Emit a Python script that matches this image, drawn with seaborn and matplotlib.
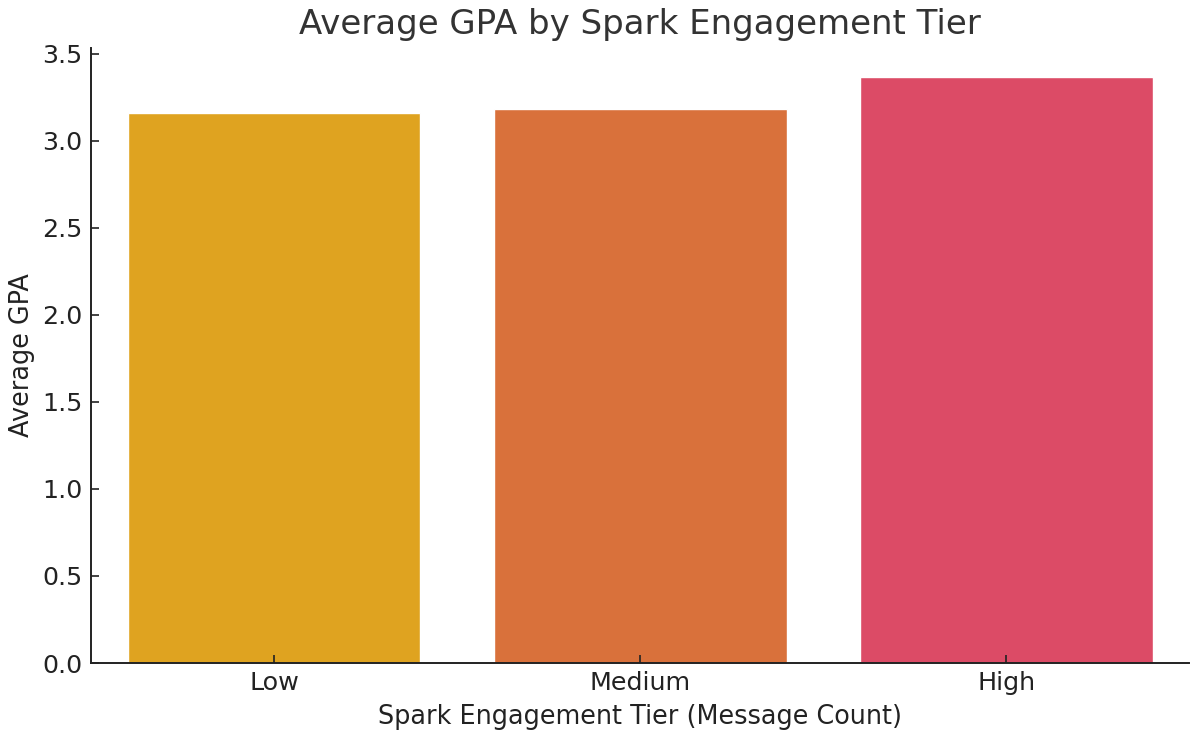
import pandas as pd
import seaborn as sns
import matplotlib.pyplot as plt

tiers = ["Low", "Medium", "High"]
avg_gpa = [3.16, 3.18, 3.365]
tier_colors = ["#DFA320", "#D9713B", "#DC4B66"]

df = pd.DataFrame({"tier": tiers, "gpa": avg_gpa})

sns.set_style("white")
plt.rcParams["font.family"] = ["DejaVu Sans"]

fig = plt.figure(figsize=(12, 7.39), dpi=100)
ax = fig.add_axes([0.0758, 0.1028, 0.9152, 0.8322])

sns.barplot(data=df, x="tier", y="gpa", hue="tier", order=tiers,
            palette=dict(zip(tiers, tier_colors)), saturation=1,
            width=0.8, legend=False, ax=ax)

ax.set_title("Average GPA by Spark Engagement Tier", fontsize=24.5, color="#333333", pad=10)
ax.set_xlabel("Spark Engagement Tier (Message Count)", fontsize=18.4, color="#222222", labelpad=6)
ax.set_ylabel("Average GPA", fontsize=18.4, color="#222222", labelpad=5)
ax.tick_params(axis="both", direction="in", labelsize=18.3, colors="#222222",
               length=5.5, width=1.2, left=True, bottom=True, pad=6)
ax.set_axisbelow(False)
ax.set_xlim(-0.5, 2.5)
ax.set_ylim(0, 3.533)

sns.despine(ax=ax)
for side in ["left", "bottom"]:
    ax.spines[side].set_linewidth(1.4)
    ax.spines[side].set_color("#222222")

plt.savefig("out.png", dpi=100)
